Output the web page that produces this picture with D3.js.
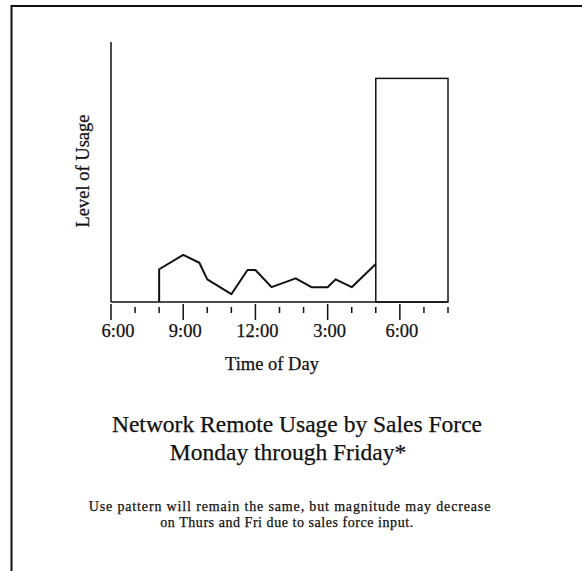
<!DOCTYPE html>
<html>
<head>
<meta charset="utf-8">
<script src="https://cdn.jsdelivr.net/npm/d3@7"></script>
<style>
  html, body { margin: 0; padding: 0; background: #fff; }
  svg { display: block; }
  text { font-family: "Liberation Serif", "Times New Roman", serif; fill: #111; stroke: #111; stroke-width: 0.25px; }
</style>
</head>
<body>
<script>
const width = 582
const height = 571

// usage level over the working day (hours since midnight, level 0-100)
const usageHours = [8, 9, 9.67, 10, 11, 11.67, 12, 12.67, 13.67, 14.33, 15, 15.33, 16, 17]
const usageLevels = [12.6, 18.1, 15.1, 8.7, 3.0, 12.3, 12.3, 5.7, 9.1, 5.7, 5.7, 8.7, 5.7, 14.6]

// evening block of heavy usage
const blockStart = 17
const blockEnd = 20
const blockLevel = 86

// hourly ticks, labelled every three hours
const tickHours = d3.range(6, 21)
const labelHours = [6, 9, 12, 15, 18]
const labelText = ['6:00', '9:00', '12:00', '3:00', '6:00']

const titleLines = ['Network Remote Usage by Sales Force', 'Monday through Friday*']
const noteLines = ['Use pattern will remain the same, but magnitude may decrease',
  'on Thurs and Fri due to sales force input.']

const x = d3.scaleLinear().domain([6, 20]).range([111, 448])
const y = d3.scaleLinear().domain([0, 100]).range([302, 42])

const svg = d3.select('body').append('svg')
  .attr('width', width)
  .attr('height', height)

// page frame (left and top edges)
svg.append('path')
  .attr('d', `M11.5,${height} V6 H${width}`)
  .attr('fill', 'none')
  .attr('stroke', '#111')
  .attr('stroke-width', 2)

// y axis line
svg.append('line')
  .attr('x1', x(6)).attr('x2', x(6))
  .attr('y1', y(100)).attr('y2', y(0))
  .attr('stroke', '#111')
  .attr('stroke-width', 1.5)

// x axis line
svg.append('line')
  .attr('x1', x(6)).attr('x2', x(20))
  .attr('y1', y(0)).attr('y2', y(0))
  .attr('stroke', '#111')
  .attr('stroke-width', 1.5)

// ticks, long ones at labelled hours
svg.selectAll('.tick')
  .data(tickHours)
  .enter().append('line')
  .attr('class', 'tick')
  .attr('x1', d => x(d)).attr('x2', d => x(d))
  .attr('y1', d => labelHours.includes(d) ? y(0) + 2 : y(0) + 5)
  .attr('y2', d => labelHours.includes(d) ? y(0) + 18 : y(0) + 11)
  .attr('stroke', '#111')
  .attr('stroke-width', 1.5)

svg.selectAll('.tick-label')
  .data(labelHours)
  .enter().append('text')
  .attr('class', 'tick-label')
  .attr('x', (d, i) => x(d) + (i === 0 ? 7 : 2))
  .attr('y', 337)
  .attr('text-anchor', 'middle')
  .style('font-size', '18.5px')
  .text((d, i) => labelText[i])

svg.append('text')
  .attr('x', 272)
  .attr('y', 370)
  .attr('text-anchor', 'middle')
  .style('font-size', '18.5px')
  .text('Time of Day')

svg.append('text')
  .attr('transform', 'translate(89,171) rotate(-90)')
  .attr('text-anchor', 'middle')
  .style('font-size', '18.5px')
  .text('Level of Usage')

// usage line: rises from the axis at 8:00
const linePts = [[usageHours[0], 0]].concat(usageHours.map((h, i) => [h, usageLevels[i]]))
svg.append('path')
  .datum(linePts)
  .attr('d', d3.line().x(d => x(d[0])).y(d => y(d[1])))
  .attr('fill', 'none')
  .attr('stroke', '#111')
  .attr('stroke-width', 2)
  .attr('stroke-linejoin', 'round')

// evening block
svg.append('rect')
  .attr('x', x(blockStart))
  .attr('y', y(blockLevel))
  .attr('width', x(blockEnd) - x(blockStart))
  .attr('height', y(0) - y(blockLevel))
  .attr('fill', 'none')
  .attr('stroke', '#111')
  .attr('stroke-width', 1.5)

const titleX = [297, 288]
svg.selectAll('.title')
  .data(titleLines)
  .enter().append('text')
  .attr('class', 'title')
  .attr('x', (d, i) => titleX[i])
  .attr('y', (d, i) => 432 + i * 28)
  .attr('text-anchor', 'middle')
  .style('font-size', '23.5px')
  .text(d => d)

// small note, letter-spaced like the scan
const noteX = [290, 287]
svg.selectAll('.note')
  .data(noteLines)
  .enter().append('text')
  .attr('class', 'note')
  .attr('x', (d, i) => noteX[i])
  .attr('y', (d, i) => 511 + i * 16)
  .attr('text-anchor', 'middle')
  .style('font-size', '14px')
  .style('letter-spacing', (d, i) => i === 0 ? '0.85px' : '0.55px')
  .text(d => d)
</script>
</body>
</html>
